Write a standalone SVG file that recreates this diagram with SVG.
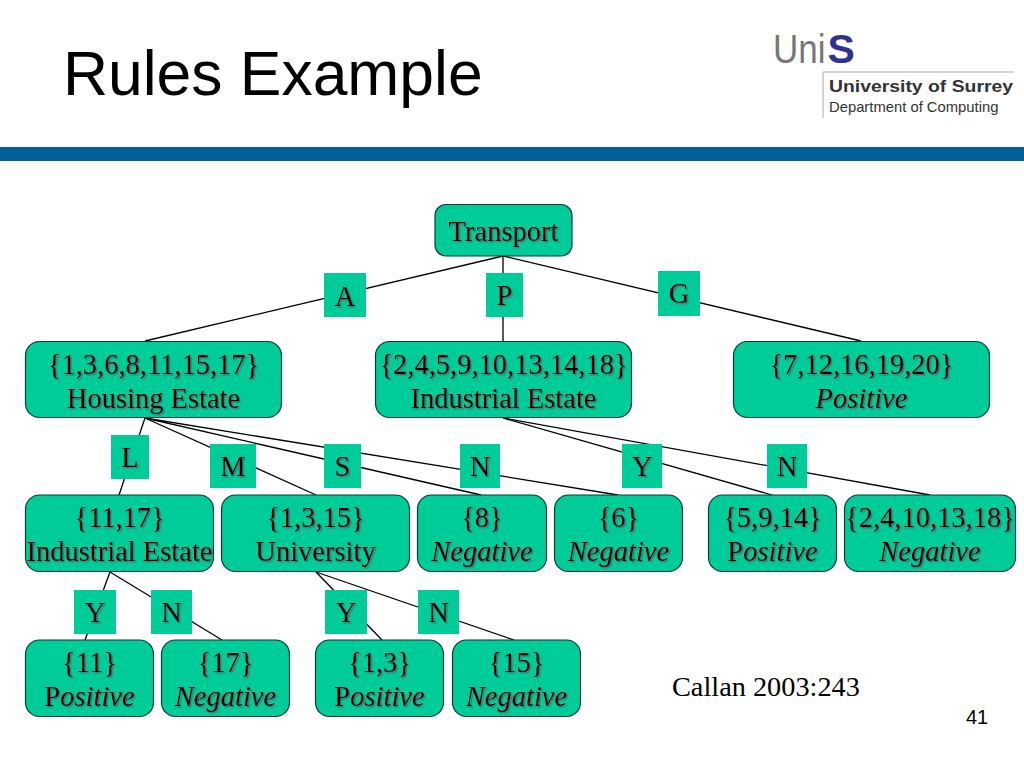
<svg xmlns="http://www.w3.org/2000/svg" width="1024" height="768" viewBox="0 0 1024 768">
<defs>
<filter id="sh" x="-10%" y="-20%" width="120%" height="140%"><feDropShadow dx="1.5" dy="1.5" stdDeviation="0.4" flood-color="#4f6f68" flood-opacity="0.95"/></filter>
</defs>
<style>
.n{fill:#00cc99;stroke:#0b3b30;stroke-width:1.2}
.l{fill:#00cc99}
.t{font-family:"Liberation Serif",serif;font-size:28.5px;fill:#000;text-anchor:middle;filter:url(#sh)}
.i{font-style:italic}
.c line{stroke:#000;stroke-width:1.3}
</style>
<rect width="1024" height="768" fill="#fff"/>
<text x="63" y="95" font-family="'Liberation Sans',sans-serif" font-size="62.400" fill="#000">Rules Example</text>
<rect y="147" width="1024" height="14" fill="#00609c"/>
<g id="logo">
<text transform="translate(773,63) scale(1,1.15)" font-family="'Liberation Sans',sans-serif" font-size="35" fill="#777">Uni</text>
<text x="827.500" y="63" font-family="'Liberation Sans',sans-serif" font-size="41" font-weight="bold" fill="#2f3192">S</text>
<path d="M823 118V72H1014" fill="none" stroke="#aaa" stroke-width="1"/>
<text x="829" y="92" font-family="'Liberation Sans',sans-serif" font-size="17" font-weight="bold" fill="#333" textLength="184" lengthAdjust="spacingAndGlyphs">University of Surrey</text>
<text x="829" y="112" font-family="'Liberation Sans',sans-serif" font-size="14.800" fill="#333">Department of Computing</text>
</g>
<g class="c" id="connectors">
<line x1="503" y1="256" x2="145" y2="341"/><line x1="503" y1="256" x2="503" y2="341"/><line x1="503" y1="256" x2="861" y2="341"/>
<line x1="145" y1="418" x2="119" y2="495"/><line x1="145" y1="418" x2="316" y2="495"/><line x1="145" y1="418" x2="481" y2="495"/><line x1="145" y1="418" x2="618" y2="495"/>
<line x1="503" y1="418" x2="772" y2="495"/><line x1="503" y1="418" x2="930" y2="495"/>
<line x1="110" y1="572" x2="85" y2="640"/><line x1="110" y1="572" x2="222" y2="640"/>
<line x1="316" y1="572" x2="382" y2="640"/><line x1="316" y1="572" x2="514" y2="640"/>
</g>
<g id="n-transport"><rect class="n" x="435" y="204.500" width="137" height="51.500" rx="11"/><text class="t" x="503.500" y="241">Transport</text></g>
<g id="n-housing"><rect class="n" x="25.500" y="341.500" width="256" height="76" rx="14"/><text class="t" x="153.500" y="374">{1,3,6,8,11,15,17}</text><text class="t" x="153.500" y="407.500">Housing Estate</text></g>
<g id="n-industrial"><rect class="n" x="375.500" y="341.500" width="256" height="76" rx="14"/><text class="t" x="503.500" y="374">{2,4,5,9,10,13,14,18}</text><text class="t" x="503.500" y="407.500">Industrial Estate</text></g>
<g id="n-g"><rect class="n" x="733.500" y="341.500" width="256" height="76" rx="14"/><text class="t" x="861.500" y="374">{7,12,16,19,20}</text><text class="t i" x="861.500" y="407.500">Positive</text></g>
<g id="n-1117"><rect class="n" x="25.500" y="495" width="188" height="76.500" rx="14"/><text class="t" x="119.500" y="527">{11,17}</text><text class="t" x="119.500" y="560.500">Industrial Estate</text></g>
<g id="n-1315"><rect class="n" x="221.500" y="495" width="188" height="76.500" rx="14"/><text class="t" x="315.500" y="527">{1,3,15}</text><text class="t" x="315.500" y="560.500">University</text></g>
<g id="n-8"><rect class="n" x="417.500" y="495" width="129" height="76.500" rx="14"/><text class="t" x="482" y="527">{8}</text><text class="t i" x="482" y="560.500">Negative</text></g>
<g id="n-6"><rect class="n" x="554.500" y="495" width="128" height="76.500" rx="14"/><text class="t" x="618.500" y="527">{6}</text><text class="t i" x="618.500" y="560.500">Negative</text></g>
<g id="n-5914"><rect class="n" x="708.500" y="495" width="128" height="76.500" rx="14"/><text class="t" x="772.500" y="527">{5,9,14}</text><text class="t" x="772.500" y="560.500">P<tspan class="i">ositive</tspan></text></g>
<g id="n-2410"><rect class="n" x="844.500" y="495" width="171" height="76.500" rx="14"/><text class="t" x="930" y="527">{2,4,10,13,18}</text><text class="t i" x="930" y="560.500">Negative</text></g>
<g id="n-11"><rect class="n" x="25.500" y="640" width="128" height="76.500" rx="14"/><text class="t" x="89.500" y="672">{11}</text><text class="t" x="89.500" y="705.500">P<tspan class="i">ositive</tspan></text></g>
<g id="n-17"><rect class="n" x="161.500" y="640" width="128" height="76.500" rx="14"/><text class="t" x="225.500" y="672">{17}</text><text class="t i" x="225.500" y="705.500">Negative</text></g>
<g id="n-13"><rect class="n" x="315.500" y="640" width="128" height="76.500" rx="14"/><text class="t" x="379.500" y="672">{1,3}</text><text class="t" x="379.500" y="705.500">P<tspan class="i">ositive</tspan></text></g>
<g id="n-15"><rect class="n" x="452.500" y="640" width="128" height="76.500" rx="14"/><text class="t" x="516.500" y="672">{15}</text><text class="t i" x="516.500" y="705.500">Negative</text></g>
<g id="l-a"><rect class="l" x="324" y="273" width="42" height="44"/><text class="t" x="345" y="306">A</text></g>
<g id="l-p"><rect class="l" x="486" y="273" width="37" height="44"/><text class="t" x="504.500" y="305">P</text></g>
<g id="l-g"><rect class="l" x="658" y="271" width="42" height="45"/><text class="t" x="679" y="303">G</text></g>
<g id="l-l"><rect class="l" x="111" y="435" width="38" height="44"/><text class="t" x="130" y="467">L</text></g>
<g id="l-m"><rect class="l" x="210" y="444" width="46" height="44"/><text class="t" x="233" y="476">M</text></g>
<g id="l-s"><rect class="l" x="324" y="444" width="37" height="44"/><text class="t" x="342.500" y="476">S</text></g>
<g id="l-n1"><rect class="l" x="460" y="444" width="40" height="44"/><text class="t" x="480" y="476">N</text></g>
<g id="l-y1"><rect class="l" x="622" y="444" width="40" height="44"/><text class="t" x="642" y="476">Y</text></g>
<g id="l-n2"><rect class="l" x="767" y="444" width="40" height="44"/><text class="t" x="787" y="476">N</text></g>
<g id="l-y2"><rect class="l" x="74" y="590" width="42" height="44"/><text class="t" x="95" y="622">Y</text></g>
<g id="l-n3"><rect class="l" x="151" y="590" width="41" height="44"/><text class="t" x="171.500" y="622">N</text></g>
<g id="l-y3"><rect class="l" x="325" y="590" width="42" height="44"/><text class="t" x="346" y="622">Y</text></g>
<g id="l-n4"><rect class="l" x="418" y="590" width="41" height="44"/><text class="t" x="438.500" y="622">N</text></g>
<text x="672" y="696" font-family="'Liberation Serif',serif" font-size="28.300" fill="#000">Callan 2003:243</text>
<text x="966" y="724" font-family="'Liberation Sans',sans-serif" font-size="20" fill="#000">41</text>
</svg>
